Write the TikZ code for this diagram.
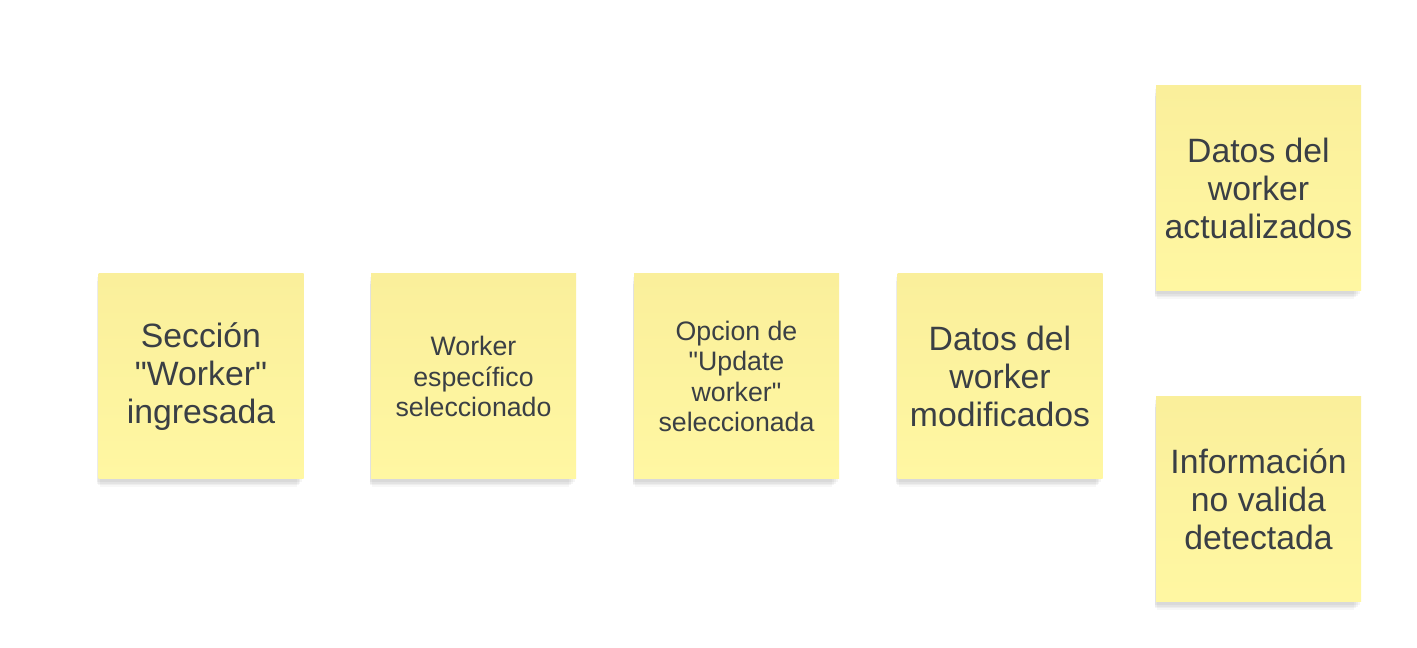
\documentclass[tikz,border=0pt]{standalone}
\usepackage{fontspec}
\setmainfont{Liberation Sans}
\usetikzlibrary{shadows}
\definecolor{notetop}{HTML}{FAEF9B}
\definecolor{notebot}{HTML}{FFF7A2}
\definecolor{inkgray}{HTML}{3A3F45}
\tikzstyle{sticky}=[rectangle,minimum size=5.125cm,inner sep=2pt,align=center,
  top color=notetop,bottom color=notebot,text=inkgray,
  general shadow={fill=black,opacity=.04,shadow xshift=-1pt,shadow yshift=-2pt},
  general shadow={fill=black,opacity=.04,shadow xshift=-1.5pt,shadow yshift=-4pt,shadow scale=.99},
  general shadow={fill=black,opacity=.04,shadow xshift=-2pt,shadow yshift=-6pt,shadow scale=.98},
  general shadow={fill=black,opacity=.03,shadow xshift=-2pt,shadow yshift=-9pt,shadow scale=.96}]

\begin{document}
\begin{tikzpicture}
    \tikzstyle{big}=[font=\fontsize{24}{27}\selectfont]
    \tikzstyle{small}=[font=\fontsize{19}{21.5}\selectfont]
    \useasboundingbox[fill=white] (0,0) rectangle (35.425,16.2);
    \node[sticky,big]   (S1) at (5.025,6.7875)    {Sección\\\textquotedbl Worker\textquotedbl\\ingresada};
    \node[sticky,small] (S2) at (11.8375,6.7875)  {Worker\\específico\\seleccionado};
    \node[sticky,small] (S3) at (18.4125,6.7875)  {Opcion de\\\textquotedbl Update\\worker\textquotedbl\\seleccionada};
    \node[sticky,big]   (S4) at (25.0,6.7875)     {Datos del\\worker\\modificados};
    \node[sticky,big]   (S5) at (31.4625,11.4875) {Datos del\\worker\\actualizados};
    \node[sticky,big]   (S6) at (31.4625,3.7125)  {Información\\no valida\\detectada};
  \end{tikzpicture}
\end{document}
